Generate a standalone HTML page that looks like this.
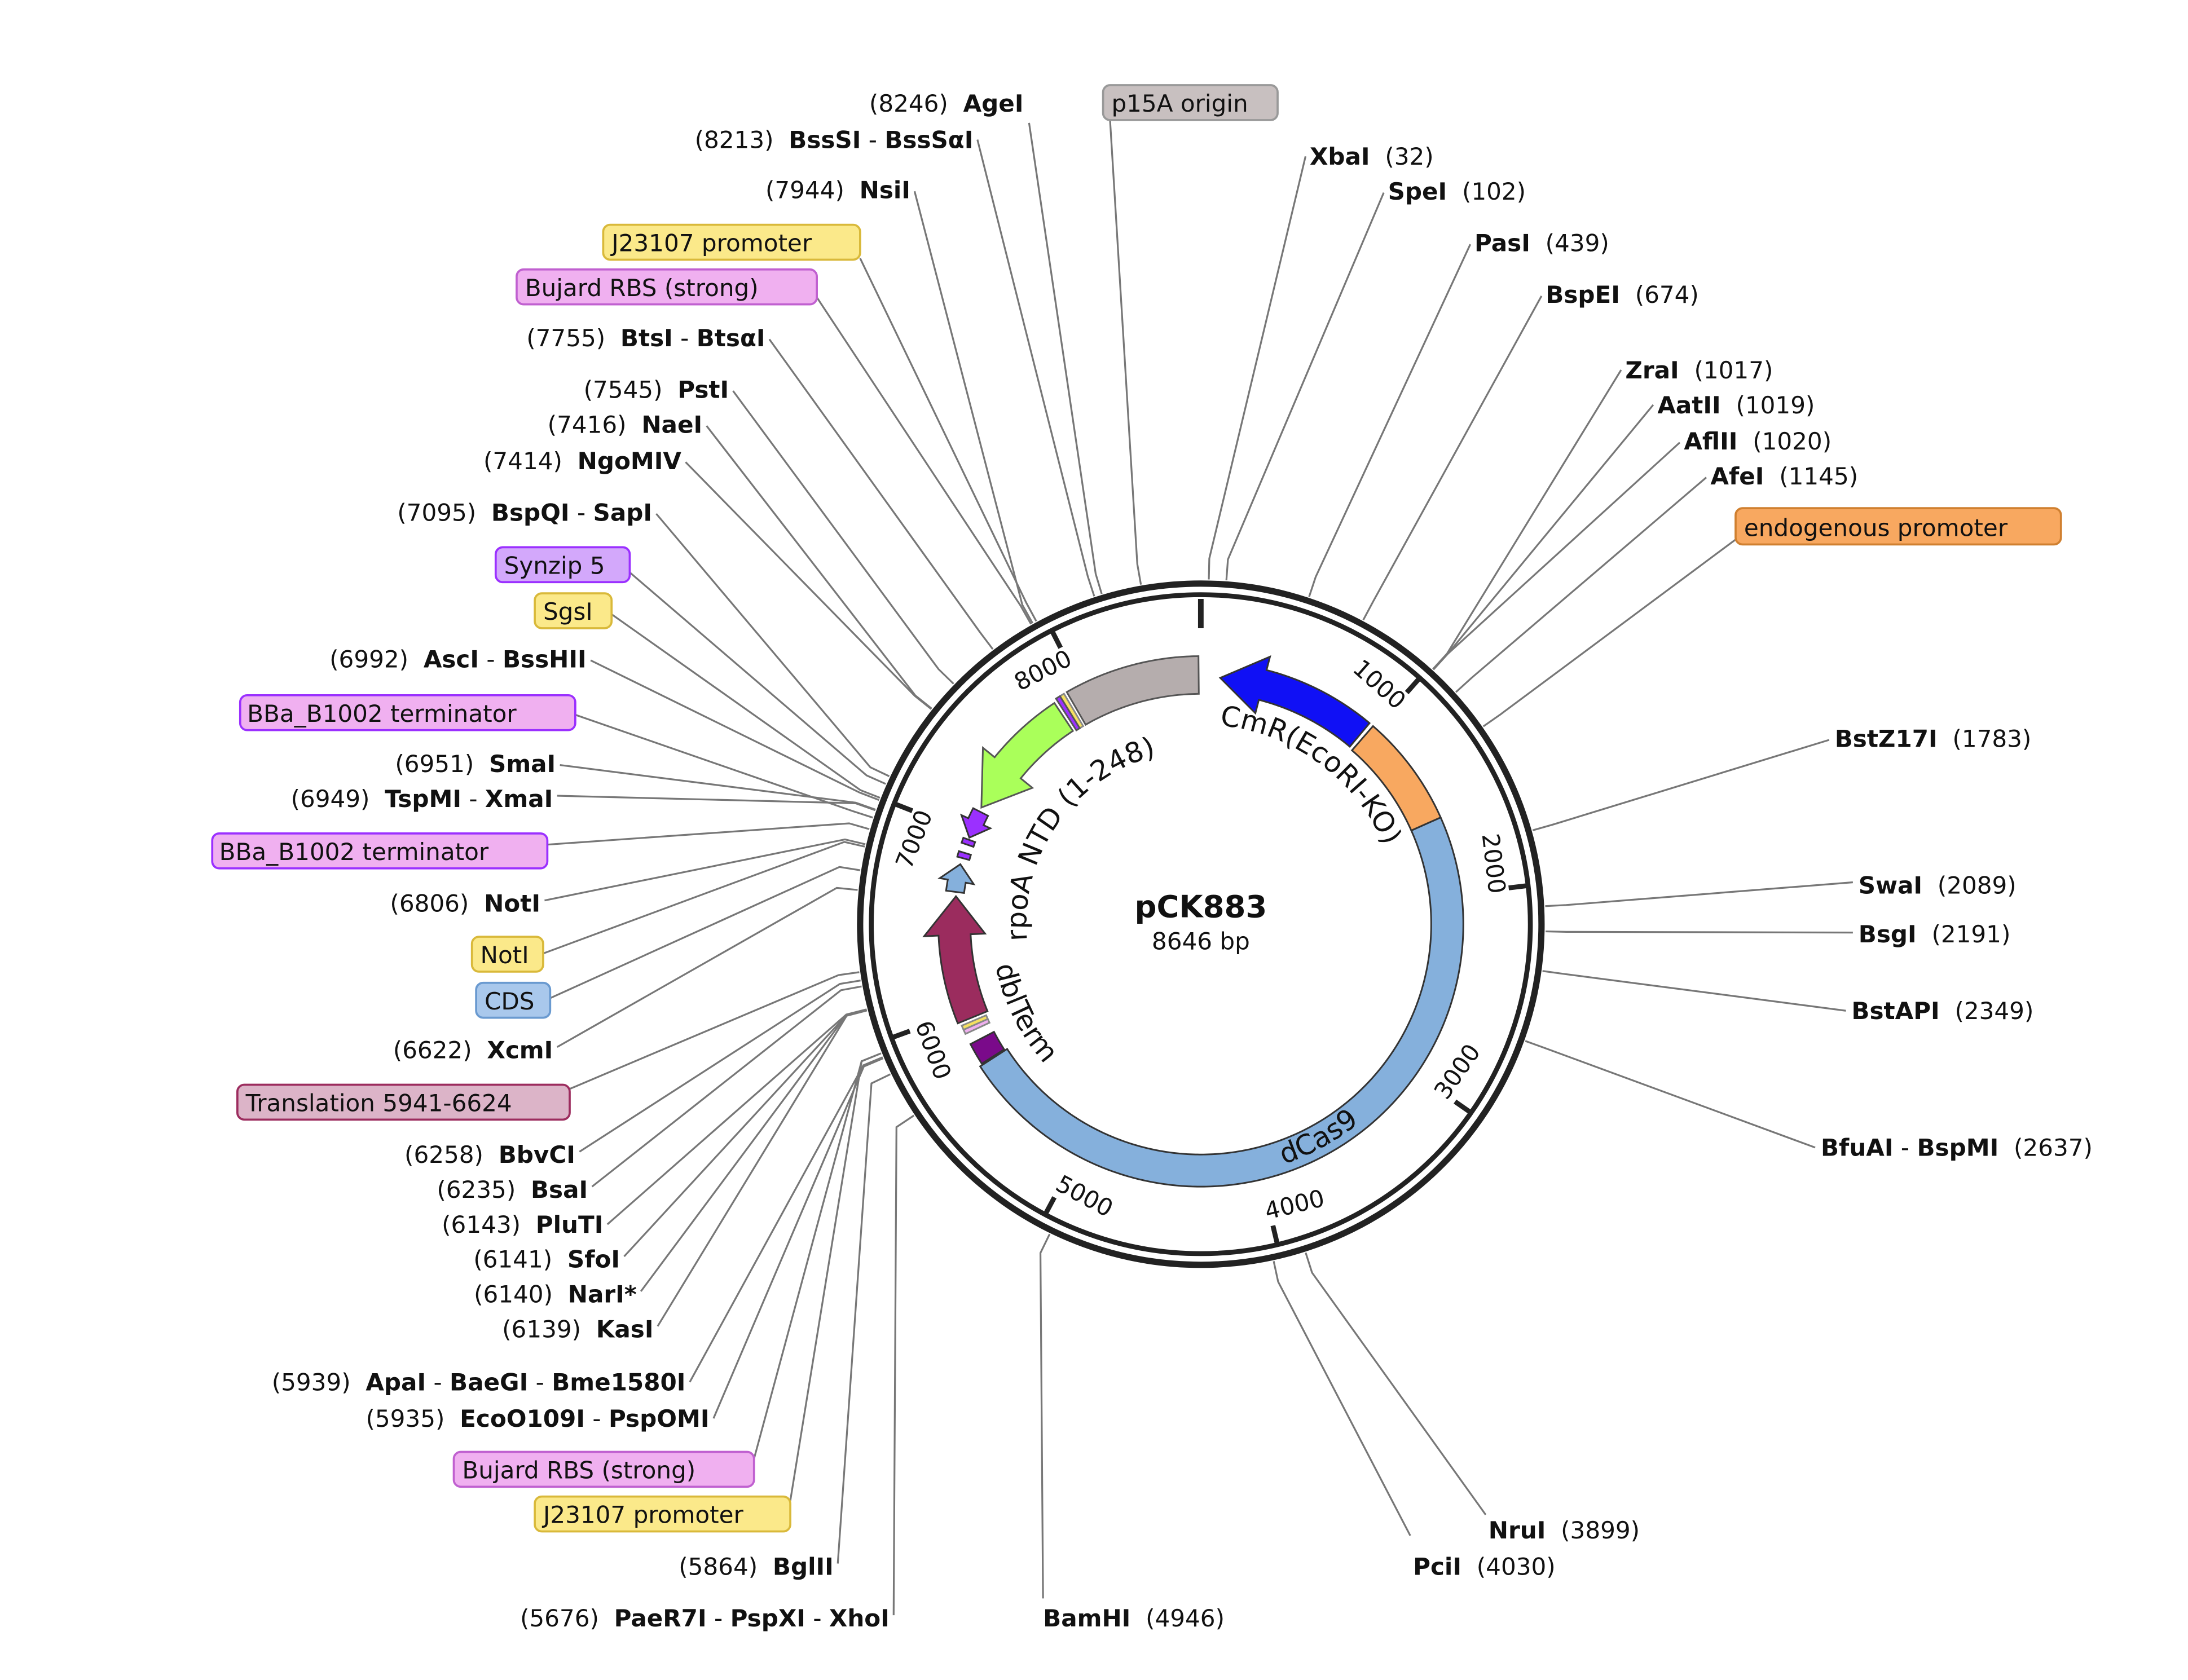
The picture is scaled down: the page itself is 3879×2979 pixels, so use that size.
<!DOCTYPE html>
<html><head><meta charset="utf-8"><style>
html,body{margin:0;padding:0;background:#fff}
svg{display:block}
text{font-family:"DejaVu Sans","Liberation Sans",sans-serif;font-size:17px;fill:#111;white-space:pre}
.b{font-weight:bold}
</style></head><body>
<svg id="s" xmlns="http://www.w3.org/2000/svg" width="3879" height="2979" viewBox="0 0 1567 1203.4">
<rect width="1567" height="1203.4" fill="#fff"/>
<g id="lines" stroke="#777" stroke-width="1.3" fill="none"></g>
<g id="feat"></g>
<circle cx="860" cy="662" r="244" fill="none" stroke="#222" stroke-width="4.5"/>
<circle cx="860" cy="662" r="236" fill="none" stroke="#222" stroke-width="3.5"/>
<g id="ticks" stroke="#222"></g>
<g id="nums"></g>
<defs>
<path id="cw143" d="M860,519 A143,143 0 1 1 860,805 A143,143 0 1 1 860,519"/>
<path id="cw125" d="M860,537 A125,125 0 1 1 860,787 A125,125 0 1 1 860,537"/>
<path id="ccw182" d="M860,480 A182,182 0 1 0 860,844 A182,182 0 1 0 860,480"/>
<path id="ccw150" d="M860,512 A150,150 0 1 0 860,812 A150,150 0 1 0 860,512"/>
</defs>
<text style="font-size:20px"><textPath href="#cw143" startOffset="1.5%">CmR(EcoRI-KO)</textPath></text>
<text style="font-size:20px"><textPath href="#cw125" startOffset="73.5%">rpoA NTD (1-248)</textPath></text>
<text style="font-size:20px"><textPath href="#ccw182" startOffset="55.3%">dCas9</textPath></text>
<text style="font-size:20px"><textPath href="#ccw150" startOffset="28.2%">dblTerm</textPath></text>
<text x="860" y="657" text-anchor="middle" class="b" style="font-size:22px">pCK883</text>
<text x="860" y="680" text-anchor="middle">8646 bp</text>

<g stroke-width="1.5">
<rect x="790" y="61" width="125" height="25" rx="5" fill="#c8c0c0" stroke="#999"/>
<rect x="432" y="161" width="184" height="25" rx="5" fill="#fbe98a" stroke="#d9b93a"/>
<rect x="370" y="193" width="215" height="25" rx="5" fill="#f0b0f0" stroke="#c060d0"/>
<rect x="355" y="392" width="96" height="25" rx="5" fill="#d3a8fb" stroke="#9b30ff"/>
<rect x="383" y="425" width="55" height="25" rx="5" fill="#fbe98a" stroke="#d9b93a"/>
<rect x="172" y="498" width="240" height="25" rx="5" fill="#f0b0f0" stroke="#9b30ff"/>
<rect x="152" y="597" width="240" height="25" rx="5" fill="#f0b0f0" stroke="#9b30ff"/>
<rect x="338" y="671" width="51" height="25" rx="5" fill="#fbe98a" stroke="#d9b93a"/>
<rect x="341" y="704" width="53" height="25" rx="5" fill="#a9c8ec" stroke="#6a9ad0"/>
<rect x="170" y="777" width="238" height="25" rx="5" fill="#dcb4c8" stroke="#9c2c5e"/>
<rect x="325" y="1040" width="215" height="25" rx="5" fill="#f0b0f0" stroke="#c060d0"/>
<rect x="383" y="1072" width="183" height="25" rx="5" fill="#fbe98a" stroke="#d9b93a"/>
<rect x="1243" y="364" width="233" height="26" rx="5" fill="#f8a860" stroke="#d08030"/>
</g>
<text x="796" y="80">p15A origin</text>
<text x="438" y="180">J23107 promoter</text>
<text x="376" y="212">Bujard RBS (strong)</text>
<text x="361" y="411">Synzip 5</text>
<text x="389" y="444">SgsI</text>
<text x="177" y="517">BBa_B1002 terminator</text>
<text x="157" y="616">BBa_B1002 terminator</text>
<text x="344" y="690">NotI</text>
<text x="347" y="723">CDS</text>
<text x="176" y="796">Translation 5941-6624</text>
<text x="331" y="1059">Bujard RBS (strong)</text>
<text x="389" y="1091">J23107 promoter</text>
<text x="1249" y="384">endogenous promoter</text>

<g text-anchor="end">
<text x="733" y="80">(8246)  <tspan class="b">AgeI</tspan></text>
<text x="697" y="106">(8213)  <tspan class="b">BssSI</tspan> - <tspan class="b">BssSαI</tspan></text>
<text x="652" y="142">(7944)  <tspan class="b">NsiI</tspan></text>
<text x="548" y="248">(7755)  <tspan class="b">BtsI</tspan> - <tspan class="b">BtsαI</tspan></text>
<text x="522" y="285">(7545)  <tspan class="b">PstI</tspan></text>
<text x="503" y="310">(7416)  <tspan class="b">NaeI</tspan></text>
<text x="488" y="336">(7414)  <tspan class="b">NgoMIV</tspan></text>
<text x="467" y="373">(7095)  <tspan class="b">BspQI</tspan> - <tspan class="b">SapI</tspan></text>
<text x="420" y="478">(6992)  <tspan class="b">AscI</tspan> - <tspan class="b">BssHII</tspan></text>
<text x="398" y="553">(6951)  <tspan class="b">SmaI</tspan></text>
<text x="396" y="578">(6949)  <tspan class="b">TspMI</tspan> - <tspan class="b">XmaI</tspan></text>
<text x="387" y="653">(6806)  <tspan class="b">NotI</tspan></text>
<text x="396" y="758">(6622)  <tspan class="b">XcmI</tspan></text>
<text x="412" y="833">(6258)  <tspan class="b">BbvCI</tspan></text>
<text x="421" y="858">(6235)  <tspan class="b">BsaI</tspan></text>
<text x="432" y="883">(6143)  <tspan class="b">PluTI</tspan></text>
<text x="444" y="908">(6141)  <tspan class="b">SfoI</tspan></text>
<text x="456" y="933">(6140)  <tspan class="b">NarI*</tspan></text>
<text x="468" y="958">(6139)  <tspan class="b">KasI</tspan></text>
<text x="491" y="996">(5939)  <tspan class="b">ApaI</tspan> - <tspan class="b">BaeGI</tspan> - <tspan class="b">Bme1580I</tspan></text>
<text x="508" y="1022">(5935)  <tspan class="b">EcoO109I</tspan> - <tspan class="b">PspOMI</tspan></text>
<text x="597" y="1128">(5864)  <tspan class="b">BglII</tspan></text>
<text x="637" y="1165">(5676)  <tspan class="b">PaeR7I</tspan> - <tspan class="b">PspXI</tspan> - <tspan class="b">XhoI</tspan></text>
</g>
<g>
<text x="747" y="1165"><tspan class="b">BamHI</tspan>  (4946)</text>
<text x="1012" y="1128"><tspan class="b">PciI</tspan>  (4030)</text>
<text x="1066" y="1102"><tspan class="b">NruI</tspan>  (3899)</text>
<text x="1304" y="828"><tspan class="b">BfuAI</tspan> - <tspan class="b">BspMI</tspan>  (2637)</text>
<text x="1326" y="730"><tspan class="b">BstAPI</tspan>  (2349)</text>
<text x="1331" y="675"><tspan class="b">BsgI</tspan>  (2191)</text>
<text x="1331" y="640"><tspan class="b">SwaI</tspan>  (2089)</text>
<text x="1314" y="535"><tspan class="b">BstZ17I</tspan>  (1783)</text>
<text x="1225" y="347"><tspan class="b">AfeI</tspan>  (1145)</text>
<text x="1206" y="322"><tspan class="b">AflII</tspan>  (1020)</text>
<text x="1187" y="296"><tspan class="b">AatII</tspan>  (1019)</text>
<text x="1164" y="271"><tspan class="b">ZraI</tspan>  (1017)</text>
<text x="1107" y="217"><tspan class="b">BspEI</tspan>  (674)</text>
<text x="1056" y="180"><tspan class="b">PasI</tspan>  (439)</text>
<text x="994" y="143"><tspan class="b">SpeI</tspan>  (102)</text>
<text x="938" y="118"><tspan class="b">XbaI</tspan>  (32)</text>
</g>
</svg>
<script>
(function(){
var NS="http://www.w3.org/2000/svg",cx=860,cy=662;
function P(a,r){var t=a*Math.PI/180;return [cx+r*Math.sin(t),cy-r*Math.cos(t)];}
function el(p,tag,at){var e=document.createElementNS(NS,tag);for(var k in at)e.setAttribute(k,at[k]);p.appendChild(e);return e;}
var L=[[343.3,737,88],[342,700,100],[330.8,655,137],[331.5,616,185],[330.5,585,213],[322.9,551,243],[314.2,525,280],[308.7,506,305],[308.6,491,331],[295.4,470,368],[294,451,410],[291.5,438,440],[291.1,423,473],[288,412,512],[289.4,401,548],[289.3,399,570],[286,392,605],[283.4,390,645],[283,389,683],[279,394,715],[275.7,399,750],[262,408,780],[260.6,415,825],[259.6,424,850],[255.7,435,877],[255.6,447,900],[255.6,459,925],[255.5,471,950],[247.3,494,990],[247.1,511,1016],[248,540,1045],[248,566,1075],[244.2,600,1120],[236.3,640,1157],[206,747,1145],[167.8,1010,1100],[162.3,1064,1085],[109.8,1300,822],[97.8,1322,724],[91.2,1327,668],[87,1327,632],[74.2,1310,530],[55,1245,385],[47.7,1222,342],[42.4,1203,317],[42.4,1184,290],[42.3,1161,265],[28.1,1104,212],[18.3,1053,175],[4.25,991,138],[1.33,935,112],[350,795,86]];
var g=document.getElementById('lines');
L.forEach(function(l){var a=P(l[0],262),b=P(l[0],247);el(g,'polyline',{points:l[1]+','+l[2]+' '+a[0]+','+a[1]+' '+b[0]+','+b[1]});});
var tg=document.getElementById('ticks'),ng=document.getElementById('nums');
var a0=P(0,233),b0=P(0,212);el(tg,'line',{x1:a0[0],y1:a0[1],x2:b0[0],y2:b0[1],'stroke-width':4});
for(var k=1;k<=8;k++){var an=k*1000/8646*360;var a=P(an,236),b=P(an,222);el(tg,'line',{x1:a[0],y1:a[1],x2:b[0],y2:b[1],'stroke-width':3.5});
 var q=P(an-5,213);var rot=(an>90&&an<270)?an-180:an;
 var t=el(ng,'text',{x:q[0],y:q[1],'text-anchor':'middle','dominant-baseline':'middle',transform:'rotate('+rot+' '+q[0]+' '+q[1]+')'});t.textContent=(k*1000)+'';}
var fg=document.getElementById('feat');
function arcPts(a1,a2,r){var pts=[],n=Math.max(2,Math.ceil(Math.abs(a2-a1)*2));for(var i=0;i<=n;i++){pts.push(P(a1+(a2-a1)*i/n,r));}return pts;}
function feat(a1,a2,r1,r2,dir,head,fill,stroke){
 var pts;
 if(!dir){pts=arcPts(a1,a2,r2).concat(arcPts(a2,a1,r1));}
 else{var s=a2>a1?1:-1,h=a2-s*head,w=(r2-r1)*0.45,m=(r1+r2)/2;
  pts=arcPts(a1,h,r2).concat([P(h,r2+w),P(a2,m),P(h,r1-w)]).concat(arcPts(h,a1,r1));}
 el(fg,'polygon',{points:pts.map(function(p){return p[0].toFixed(2)+','+p[1].toFixed(2)}).join(' '),fill:fill,stroke:stroke||'#333','stroke-width':1.2});}
feat(330,359.5,165,192,0,0,'#b5adad','#555');
feat(328.3,329.3,165,192,0,0,'#f5e060','#888');
feat(327.3,328.3,165,192,0,0,'#9b30ff','#555');
feat(326.5,298,166,190,1,11,'#aaff5a','#555');
feat(297,290.5,171,183,1,4,'#9b30ff','#333');
feat(288.8,290,172,181,0,0,'#9b30ff','#333');
feat(285.5,286.8,172,181,0,0,'#9b30ff','#333');
feat(277.5,284,171,184,1,4,'#85b0dc','#333');
feat(247.8,276.5,165,188,1,9,'#9b2c5e','#333');
feat(246,247,167,186,0,0,'#f5e060','#888');
feat(245,246,167,186,0,0,'#f0b0f0','#888');
feat(237.5,242.5,167,186,0,0,'#7a0a8a','#333');
feat(66,237.2,165,188,0,0,'#85b0dc','#333');
feat(41,66,165,188,0,0,'#f8a860','#333');
feat(40,4.5,166,188,1,10,'#1010f5','#333');
})();
</script>
</body></html>
